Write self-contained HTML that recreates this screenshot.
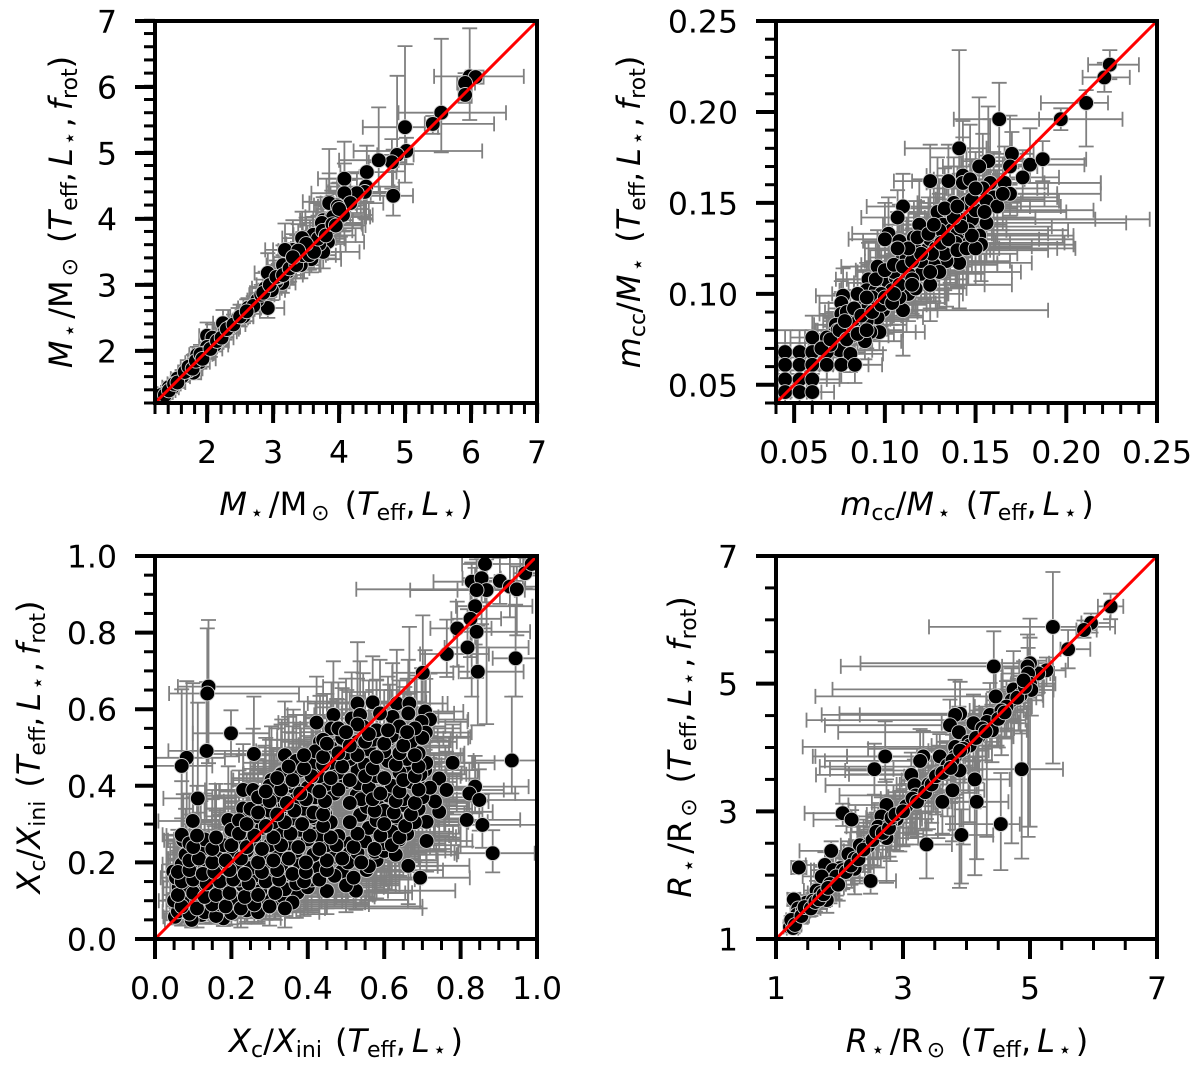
<!DOCTYPE html>
<html lang="en">
<head>
<meta charset="utf-8">
<title>Stellar parameter comparison</title>
<style>
html,body{margin:0;padding:0;background:#fff;}
svg{display:block;}
text{font-family:"DejaVu Sans","Liberation Sans",sans-serif;fill:#000;}
</style>
</head>
<body>
<svg id="figure" xmlns="http://www.w3.org/2000/svg" width="1200" height="1068" viewBox="0 0 1200 1068">
<rect x="0" y="0" width="1200" height="1068" fill="#fff"/>
<g id="panels"></g>

<text x="346" y="515" text-anchor="middle" font-size="32"><tspan font-style="italic">M</tspan><tspan dy="5" dx="3" font-size="22">⋆</tspan><tspan dy="-5" dx="5">/M</tspan><tspan dy="5" dx="4" font-size="22">⊙</tspan><tspan dy="-5" dx="15">(</tspan><tspan font-style="italic">T</tspan><tspan dy="5" font-size="22">eff</tspan><tspan dy="-5">,</tspan><tspan dx="6" font-style="italic">L</tspan><tspan dy="5" dx="3" font-size="22">⋆</tspan><tspan dy="-5" dx="4">)</tspan></text>
<text transform="translate(72 212) rotate(-90)" text-anchor="middle" font-size="32"><tspan font-style="italic">M</tspan><tspan dy="5" dx="3" font-size="22">⋆</tspan><tspan dy="-5" dx="5">/M</tspan><tspan dy="5" dx="4" font-size="22">⊙</tspan><tspan dy="-5" dx="15">(</tspan><tspan font-style="italic">T</tspan><tspan dy="5" font-size="22">eff</tspan><tspan dy="-5">,</tspan><tspan dx="6" font-style="italic">L</tspan><tspan dy="5" dx="3" font-size="22">⋆</tspan><tspan dy="-5" dx="4">,</tspan><tspan dx="7" font-style="italic">f</tspan><tspan dy="5" font-size="22">rot</tspan><tspan dy="-5">)</tspan></text>

<text x="967" y="515" text-anchor="middle" font-size="32"><tspan font-style="italic">m</tspan><tspan dy="5" font-size="22">cc</tspan><tspan dy="-5">/</tspan><tspan font-style="italic">M</tspan><tspan dy="5" dx="3" font-size="22">⋆</tspan><tspan dy="-5" dx="15">(</tspan><tspan font-style="italic">T</tspan><tspan dy="5" font-size="22">eff</tspan><tspan dy="-5">,</tspan><tspan dx="6" font-style="italic">L</tspan><tspan dy="5" dx="3" font-size="22">⋆</tspan><tspan dy="-5" dx="4">)</tspan></text>
<text transform="translate(640 212) rotate(-90)" text-anchor="middle" font-size="32"><tspan font-style="italic">m</tspan><tspan dy="5" font-size="22">cc</tspan><tspan dy="-5">/</tspan><tspan font-style="italic">M</tspan><tspan dy="5" dx="3" font-size="22">⋆</tspan><tspan dy="-5" dx="15">(</tspan><tspan font-style="italic">T</tspan><tspan dy="5" font-size="22">eff</tspan><tspan dy="-5">,</tspan><tspan dx="6" font-style="italic">L</tspan><tspan dy="5" dx="3" font-size="22">⋆</tspan><tspan dy="-5" dx="4">,</tspan><tspan dx="7" font-style="italic">f</tspan><tspan dy="5" font-size="22">rot</tspan><tspan dy="-5">)</tspan></text>

<text x="346" y="1052" text-anchor="middle" font-size="32"><tspan font-style="italic">X</tspan><tspan dy="5" font-size="22">c</tspan><tspan dy="-5">/</tspan><tspan font-style="italic">X</tspan><tspan dy="5" font-size="22">ini</tspan><tspan dy="-5" dx="13">(</tspan><tspan font-style="italic">T</tspan><tspan dy="5" font-size="22">eff</tspan><tspan dy="-5">,</tspan><tspan dx="6" font-style="italic">L</tspan><tspan dy="5" dx="3" font-size="22">⋆</tspan><tspan dy="-5" dx="4">)</tspan></text>
<text transform="translate(40 747) rotate(-90)" text-anchor="middle" font-size="32"><tspan font-style="italic">X</tspan><tspan dy="5" font-size="22">c</tspan><tspan dy="-5">/</tspan><tspan font-style="italic">X</tspan><tspan dy="5" font-size="22">ini</tspan><tspan dy="-5" dx="13">(</tspan><tspan font-style="italic">T</tspan><tspan dy="5" font-size="22">eff</tspan><tspan dy="-5">,</tspan><tspan dx="6" font-style="italic">L</tspan><tspan dy="5" dx="3" font-size="22">⋆</tspan><tspan dy="-5" dx="4">,</tspan><tspan dx="7" font-style="italic">f</tspan><tspan dy="5" font-size="22">rot</tspan><tspan dy="-5">)</tspan></text>

<text x="967" y="1052" text-anchor="middle" font-size="32"><tspan font-style="italic">R</tspan><tspan dy="5" dx="3" font-size="22">⋆</tspan><tspan dy="-5" dx="5">/R</tspan><tspan dy="5" dx="4" font-size="22">⊙</tspan><tspan dy="-5" dx="15">(</tspan><tspan font-style="italic">T</tspan><tspan dy="5" font-size="22">eff</tspan><tspan dy="-5">,</tspan><tspan dx="6" font-style="italic">L</tspan><tspan dy="5" dx="3" font-size="22">⋆</tspan><tspan dy="-5" dx="4">)</tspan></text>
<text transform="translate(691 747) rotate(-90)" text-anchor="middle" font-size="32"><tspan font-style="italic">R</tspan><tspan dy="5" dx="3" font-size="22">⋆</tspan><tspan dy="-5" dx="5">/R</tspan><tspan dy="5" dx="4" font-size="22">⊙</tspan><tspan dy="-5" dx="15">(</tspan><tspan font-style="italic">T</tspan><tspan dy="5" font-size="22">eff</tspan><tspan dy="-5">,</tspan><tspan dx="6" font-style="italic">L</tspan><tspan dy="5" dx="3" font-size="22">⋆</tspan><tspan dy="-5" dx="4">,</tspan><tspan dx="7" font-style="italic">f</tspan><tspan dy="5" font-size="22">rot</tspan><tspan dy="-5">)</tspan></text>
</svg>

<script>
// ---- Panel 1: stellar mass ----
const massTicks=[2,3,4,5,6,7];
const massTickLabels=["2","3","4","5","6","7"];
const massX=[5.98,6.07,5.91,5.91,5.55,5.42,5.0,5.02,4.88,4.8,
4.6,4.42,4.41,4.39,4.27,4.82,4.08,4.08,4.17,3.85,
3.97,3.76,3.89,4.02,3.85,3.98,4.06,3.91,3.74,3.86,
3.83,3.76,3.58,3.61,3.44,3.3,3.18,3.26,3.15,3.48,
2.92,2.88,2.92,3.14,2.76,2.62,2.47,2.24,2.27,2.0,
2.08,2.12,2.0,1.85,1.79,1.89,1.79,1.62,1.47,1.29,
1.38,3.52,3.36,3.22,3.05,2.98,2.7,2.55,2.35,2.18,
1.95,1.72,1.55,1.25,3.7,3.42,3.08,2.82,1.42,1.33,
1.3,1.36,1.42,1.5,1.55,1.66,1.72,1.78,1.83,1.9,
1.93,2.05,2.15,2.22,2.3,2.4,2.5,2.6,2.85,2.95,
3.05,3.15,3.25,3.35,3.45,3.55,3.62,3.68,3.75,3.8,
3.9,3.95,4.0,3.5,3.38,3.3];
const massY=[6.16,6.15,6.06,5.88,5.61,5.44,5.39,5.03,4.97,4.86,
4.89,4.71,4.49,4.41,4.39,4.35,4.61,4.39,4.24,4.26,
4.21,3.98,4.03,4.03,4.24,4.19,4.06,4.03,3.94,3.86,
3.65,3.5,3.39,3.76,3.71,3.53,3.53,3.33,3.3,3.48,
3.18,2.95,2.65,3.03,2.77,2.65,2.5,2.42,2.29,2.23,
2.2,2.09,2.06,1.94,1.82,1.83,1.67,1.61,1.44,1.3,
1.37,3.55,3.4,3.2,3.05,2.92,2.68,2.52,2.36,2.16,
1.96,1.7,1.58,1.25,3.62,3.3,3.12,2.85,1.45,1.35,
1.33,1.33,1.4,1.5,1.52,1.68,1.76,1.73,1.85,1.95,
1.88,2.03,2.15,2.2,2.33,2.4,2.52,2.6,2.88,3.0,
3.12,3.15,3.25,3.3,3.45,3.45,3.5,3.7,3.82,3.75,
3.92,3.9,4.15,3.62,3.52,3.42];
const massXLo=[.54,.15,.12,.1,.65,.12,.64,.8,.3,.35,
.6,.4,.6,.55,.4,.7,.4,.5,.45,.4,
.35,.35,.4,.35,.3,.3,.3,.25,.3,.3,
.25,.25,.25,.3,.3,.3,.3,.25,.25,.2,
.2,.2,.2,.2,.15,.15,.15,.15,.15,.12,
.12,.12,.12,.12,.12,.1,.1,.1,.1,.08,
.08,.25,.25,.2,.2,.2,.15,.12,.12,.12,
.12,.1,.1,.08,.3,.25,.2,.18,.1,.08,
.08,.08,.09,.1,.1,.1,.12,.12,.12,.12,
.12,.12,.12,.15,.15,.15,.15,.15,.2,.2,
.2,.25,.25,.25,.25,.3,.3,.3,.3,.3,
.3,.3,.35,.3,.3,.3];
const massXHi=[.82,.12,.15,.1,.98,.93,.5,1.15,.25,.2,
.3,.45,.5,.45,.35,.3,.35,.4,.5,.4,
.4,.45,.5,.45,.4,.35,.45,.5,.6,.5,
.55,.55,.45,.4,.3,.3,.3,.35,.3,.35,
.25,.25,.25,.2,.2,.2,.15,.15,.18,.2,
.18,.2,.15,.15,.15,.15,.12,.12,.1,.08,
.1,.3,.25,.25,.2,.2,.15,.15,.15,.12,
.15,.12,.1,.08,.4,.3,.2,.2,.1,.08,
.08,.08,.1,.1,.12,.12,.12,.15,.15,.18,
.2,.18,.18,.18,.18,.18,.2,.2,.25,.25,
.25,.3,.3,.35,.35,.4,.4,.4,.45,.45,
.45,.45,.45,.35,.3,.3];
const massYLo=[.66,.1,.15,.12,.6,.15,.84,.2,.25,.4,
.5,.45,.5,.4,.3,.3,.4,.35,.3,.35,
.3,.3,.3,.3,.25,.25,.25,.25,.25,.25,
.25,.25,.2,.25,.25,.2,.2,.2,.2,.2,
.18,.15,.15,.15,.15,.12,.12,.12,.12,.1,
.1,.1,.1,.1,.1,.1,.1,.08,.08,.06,
.06,.2,.2,.2,.15,.15,.12,.1,.1,.1,
.08,.08,.08,.05,.2,.2,.15,.12,.08,.06,
.06,.06,.07,.07,.08,.08,.1,.1,.1,.12,
.12,.12,.12,.12,.12,.12,.15,.15,.15,.18,
.18,.2,.2,.2,.22,.22,.25,.25,.25,.25,
.25,.25,.3,.25,.22,.2];
const massYHi=[.73,.1,.15,.12,1.12,.12,1.23,.2,1.2,.35,
.8,.4,.25,.3,.3,.7,.56,.45,.35,.8,
.4,.35,.4,.35,.45,.35,.3,.35,.3,.4,
.3,.3,.25,.35,.4,.45,.4,.3,.3,.3,
.3,.25,.15,.2,.2,.15,.15,.2,.18,.2,
.2,.12,.12,.12,.12,.1,.1,.1,.08,.06,
.06,.35,.35,.3,.2,.2,.15,.15,.12,.12,
.1,.1,.08,.05,.3,.25,.2,.15,.08,.06,
.06,.06,.07,.08,.08,.1,.1,.1,.12,.14,
.12,.14,.14,.15,.15,.15,.18,.18,.2,.25,
.25,.3,.3,.3,.35,.3,.3,.35,.4,.35,
.35,.35,.4,.4,.4,.35];

// ---- Panel 2: convective core mass ----
const coreTicks=[.05,.10,.15,.20,.25];
const coreTickLabels=["0.05","0.10","0.15","0.20","0.25"];
const coreX=[.224,.221,.211,.197,.163,.141,.17,.157,.152,.169,
.18,.187,.176,.125,.135,.143,.143,.158,.166,.169,
.147,.154,.16,.156,.138,.145,.11,.107,.129,.156,
.148,.141,.119,.132,.137,.102,.1,.108,.116,.152,
.144,.153,.136,.141,.134,.122,.127,.129,.123,.117,
.109,.096,.12,.113,.091,.101,.106,.113,.117,.11,
.099,.09,.095,.104,.077,.076,.076,.087,.091,.081,
.096,.087,.097,.092,.081,.073,.072,.082,.089,.06,
.068,.075,.081,.045,.053,.06,.068,.045,.053,.06,
.068,.076,.0835,.045,.053,.06,.045,.053,.06,.13,
.125,.112,.105,.118,.128,.15,.14,.133,.098,.093,
.085,.083,.079,.07,.065,.074,.09,.103,.108,.115,
.12,.126,.131,.139,.146,
.07,.075,.079,.085,.09,.078,.083,.087,.093,.098,
.085,.09,.1,.104,.108,.095,.1,.105,.11,.115,
.12,.113,.107,.118,.124,.127,.135,.14,.145,.15,
.148,.142,.138,.133,.14,.148,.15,.162,.165,.155,
.125,.13,.105,.115,.125];
const coreY=[.226,.219,.205,.196,.196,.18,.177,.173,.17,.17,
.171,.174,.164,.162,.162,.165,.161,.161,.161,.155,
.163,.158,.153,.151,.15,.15,.148,.142,.145,.139,
.141,.141,.138,.138,.135,.133,.13,.129,.131,.132,
.13,.127,.126,.117,.118,.117,.116,.128,.124,.124,
.118,.115,.111,.111,.108,.106,.109,.1,.103,.091,
.091,.102,.102,.102,.099,.095,.089,.094,.094,.088,
.087,.083,.079,.079,.083,.083,.078,.077,.074,.076,
.076,.069,.067,.068,.068,.068,.068,.061,.061,.061,
.061,.061,.061,.053,.053,.053,.046,.046,.046,.135,
.13,.12,.112,.12,.125,.146,.133,.122,.1,.098,
.088,.086,.09,.072,.07,.08,.085,.095,.098,.108,
.118,.122,.128,.128,.135,
.075,.08,.075,.078,.08,.085,.092,.088,.09,.094,
.1,.098,.098,.095,.105,.108,.113,.116,.115,.118,
.122,.125,.125,.131,.133,.138,.13,.124,.125,.125,
.132,.137,.142,.147,.148,.152,.158,.148,.155,.145,
.105,.112,.1,.105,.112];
const coreXLo=[.012,.012,.025,.012,.025,.03,.012,.015,.02,.012,
.02,.02,.015,.02,.02,.02,.02,.02,.02,.02,
.02,.02,.02,.02,.02,.02,.02,.02,.02,.025,
.02,.025,.02,.02,.02,.02,.02,.02,.02,.02,
.02,.02,.02,.015,.02,.02,.02,.02,.02,.02,
.02,.02,.018,.018,.018,.018,.018,.015,.015,.015,
.015,.015,.015,.015,.015,.012,.012,.012,.012,.012,
.012,.012,.012,.012,.012,.012,.012,.012,.012,.012,
.012,.012,.012,.005,.012,.012,.012,.005,.012,.012,
.012,.012,.012,.005,.012,.012,.005,.012,.012,.02,
.02,.02,.02,.02,.02,.02,.02,.02,.015,.015,
.012,.012,.012,.012,.012,.012,.012,.015,.015,.015,
.02,.02,.02,.02,.02,
.012,.012,.012,.012,.014,.012,.014,.014,.015,.015,
.014,.015,.015,.016,.016,.016,.016,.018,.018,.018,
.02,.018,.018,.02,.02,.02,.02,.02,.02,.02,
.02,.02,.02,.02,.02,.02,.02,.02,.02,.02,
.018,.018,.016,.018,.018];
const coreXHi=[.016,.014,.012,.034,.034,.015,.012,.03,.015,.015,
.03,.024,.02,.01,.02,.02,.076,.03,.053,.05,
.03,.03,.035,.04,.02,.03,.015,.015,.025,.077,
.068,.105,.03,.03,.03,.02,.02,.025,.025,.052,
.06,.051,.045,.04,.035,.04,.035,.04,.035,.03,
.03,.03,.035,.03,.025,.025,.03,.03,.028,.08,
.03,.025,.025,.03,.02,.02,.02,.02,.025,.02,
.025,.025,.025,.025,.02,.02,.02,.02,.02,.018,
.018,.018,.018,.015,.015,.015,.015,.015,.015,.015,
.015,.015,.015,.012,.015,.015,.012,.012,.012,.03,
.035,.03,.025,.03,.035,.065,.05,.04,.025,.022,
.02,.02,.02,.015,.015,.018,.02,.025,.025,.03,
.03,.03,.03,.06,.055,
.018,.018,.018,.02,.02,.02,.022,.022,.025,.025,
.024,.025,.03,.03,.035,.03,.03,.035,.035,.04,
.04,.035,.03,.035,.035,.04,.05,.05,.05,.055,
.05,.05,.045,.04,.04,.04,.04,.035,.03,.045,
.045,.045,.03,.04,.045];
const coreYLo=[.008,.008,.024,.006,.03,.03,.008,.008,.012,.01,
.01,.012,.012,.012,.012,.015,.02,.015,.012,.012,
.012,.015,.015,.015,.015,.015,.015,.015,.015,.015,
.015,.02,.012,.015,.015,.012,.012,.012,.012,.015,
.015,.02,.02,.025,.025,.02,.02,.015,.015,.015,
.012,.012,.015,.015,.012,.012,.012,.015,.015,.025,
.012,.012,.012,.012,.012,.01,.01,.01,.01,.01,
.01,.01,.01,.01,.01,.01,.01,.01,.01,.01,
.01,.01,.01,.01,.01,.01,.01,.01,.01,.01,
.01,.01,.01,.01,.008,.008,.008,.008,.008,.015,
.015,.012,.012,.012,.015,.02,.02,.02,.012,.012,
.01,.01,.01,.01,.01,.01,.01,.012,.012,.012,
.015,.015,.015,.025,.03,
.01,.01,.01,.01,.01,.012,.012,.012,.012,.012,
.012,.012,.012,.012,.014,.014,.014,.014,.014,.016,
.016,.014,.014,.016,.016,.016,.02,.02,.02,.02,
.02,.02,.02,.02,.02,.02,.02,.02,.02,.02,
.02,.02,.014,.016,.02];
const coreYHi=[.008,.008,.007,.006,.02,.054,.012,.03,.038,.028,
.02,.01,.015,.02,.02,.03,.025,.035,.02,.02,
.03,.03,.025,.025,.025,.03,.018,.015,.03,.02,
.025,.025,.025,.025,.025,.02,.02,.02,.02,.02,
.025,.02,.025,.02,.02,.02,.02,.025,.02,.02,
.02,.02,.02,.015,.02,.015,.015,.015,.015,.015,
.015,.015,.015,.015,.015,.012,.012,.012,.012,.012,
.012,.012,.012,.012,.012,.012,.012,.012,.012,.012,
.012,.012,.012,.012,.012,.012,.012,.012,.012,.012,
.012,.012,.012,.012,.012,.012,.01,.01,.01,.02,
.02,.02,.018,.018,.02,.025,.025,.02,.015,.015,
.012,.012,.012,.01,.01,.012,.012,.015,.015,.015,
.02,.02,.02,.025,.025,
.012,.012,.012,.012,.012,.014,.014,.014,.014,.014,
.015,.015,.015,.015,.016,.016,.018,.018,.018,.018,
.02,.02,.02,.02,.02,.02,.02,.02,.02,.02,
.022,.022,.022,.022,.022,.022,.02,.02,.02,.022,
.016,.016,.015,.016,.018];

// ---- Panel 3: central hydrogen fraction ----
const hydroTicks=[0,.2,.4,.6,.8,1];
const hydroTickLabels=["0.0","0.2","0.4","0.6","0.8","1.0"];
const hydroX=[.864,.829,.855,.903,.929,.947,.868,.842,.969,.986,
.838,.826,.842,.791,.818,.764,.845,.944,.934,.701,
.14,.137,.199,.135,.259,.083,.07,.112,.099,.779,
.744,.763,.838,.823,.849,.816,.857,.884,.711,.663,
.694,.526,.373,.312,.554,.53,.57,.633,.666,.467,
.423,.707,.663,.622,.515,.537,.589,.72,.698,.709,
.685,.654,.615,.58,.545,.502,.476,.432,.462,.744,
.733,.711,.676,.707,.707,.663,.667,.633,.589,.606,
.528,.58,.537,.633,.628,.614,.58,.576,.51,.51,
.48,.445,.419,.423,.345,.44,.375,.436,.489,.306,
.27,.249,.179,.122,.096,.052,.061,.048,.074,.07,
.114,.157,.21,.192,.231,.257,.288,.305,.34,.362,
.414,.476,.502,.563,.532,.532,.484,.449,.362,.332,
.284,.231,.249,.31,.362,.327,.266,
.06,.09,.13,.16,.2,.24,.27,
.05,.08,.11,.145,.17,.21,.25,.29,.335,.36,
.062,.09,.12,.152,.19,.23,.275,.34,.4,.45,.5,
.055,.08,.112,.15,.18,.22,.26,.3,.345,.41,.47,.52,
.07,.1,.13,.17,.21,.25,.29,.33,.38,.43,.505,.56,
.08,.12,.16,.2,.24,.28,.32,.37,.415,.47,.53,.6,.63,
.09,.13,.18,.22,.26,.3,.35,.4,.45,.55,.6,.64,
.2,.24,.28,.33,.38,.43,.56,.62,.66,
.22,.27,.31,.36,.41,.46,.58,.63,.68,
.25,.3,.34,.39,.44,.555,.6,.65,.69,
.27,.32,.37,.42,.47,.54,.61,.65,.7,
.3,.35,.4,.45,.5,.56,.62,.67,.72,
.33,.38,.43,.48,.53,.58,.64,.695,
.37,.41,.46,.51,.55,.61,.66,.71,
.42,.46,.5,.56,.6,.65,.69,
.44,.49,.53,.57,.62,.67,.7,
.48,.53,.58,.64,.68,
.07,.11,.15,.185,.225,.26,.3,.34,
.06,.1,.13,.16,.195,.235,.27,.315,
.07,.1,.135,.17,.205,.245,.29,.325,.37,.39,.43,
.06,.09,.125,.155,.195,.235,.28,.32,.36,.395,.45,
.09,.115,.15,.185,.225,.27,.31,.35,.395,.45,.49,.54,
.1,.15,.2,.24,.28,.33,.375,.43,.475,.52,.575,.62,
.11,.16,.22,.26,.31,.355,.405,.46,.53,.59,.64,
.24,.29,.34,.385,.44,.51,.6,.655,
.27,.32,.365,.415,.44,.575,.625,.67,
.3,.345,.395,.445,.51,.57,.63,.68,
.29,.33,.38,.43,.48,.59,.64,.69,
.32,.36,.41,.46,.51,.55,.6,.65,.68,
.35,.39,.44,.49,.57,.63,.69,
.39,.44,.48,.53,.58,.64,.68,
.45,.51,.55,.6,.65,
.5,.56,.61,.66];
const hydroY=[.979,.933,.942,.935,.92,.913,.911,.911,.955,.979,
.869,.836,.802,.811,.761,.744,.698,.733,.466,.695,
.659,.641,.537,.491,.483,.473,.452,.367,.308,.46,
.419,.389,.398,.38,.363,.311,.298,.224,.256,.191,
.16,.126,.121,.102,.18,.615,.618,.615,.615,.585,
.565,.594,.589,.58,.576,.585,.589,.573,.567,.539,
.528,.518,.524,.537,.554,.53,.507,.515,.55,.332,
.359,.306,.347,.393,.441,.433,.48,.463,.424,.389,
.376,.356,.324,.315,.267,.228,.206,.228,.25,.224,
.269,.328,.315,.276,.276,.224,.18,.18,.176,.176,
.154,.135,.054,.063,.05,.058,.102,.176,.258,.272,
.258,.254,.267,.311,.389,.389,.385,.415,.48,.459,
.459,.485,.459,.476,.45,.406,.424,.406,.398,.433,
.346,.341,.324,.359,.354,.319,.293,
.072,.066,.07,.06,.068,.075,.07,
.1,.11,.095,.1,.09,.105,.095,.1,.11,.095,
.135,.13,.14,.125,.13,.14,.125,.13,.135,.125,.14,
.16,.17,.155,.16,.17,.155,.165,.16,.17,.155,.165,.16,
.195,.19,.185,.2,.19,.185,.2,.19,.195,.185,.2,.19,
.22,.23,.215,.225,.23,.215,.225,.23,.22,.215,.225,.23,.22,
.25,.26,.245,.255,.26,.245,.25,.26,.245,.255,.25,.26,
.285,.275,.29,.28,.285,.27,.29,.28,.275,
.31,.32,.305,.315,.32,.305,.31,.32,.305,
.34,.335,.35,.34,.335,.345,.335,.35,.34,
.37,.375,.365,.37,.38,.365,.375,.365,.37,
.4,.41,.395,.405,.41,.395,.4,.41,.395,
.43,.44,.425,.435,.44,.425,.435,.43,
.465,.455,.46,.47,.455,.465,.47,.46,
.49,.5,.485,.495,.49,.5,.485,
.52,.525,.515,.52,.53,.515,.525,
.55,.56,.545,.555,.55,
.085,.08,.09,.085,.08,.09,.085,.08,
.115,.12,.11,.115,.12,.11,.115,.12,
.15,.155,.145,.15,.155,.145,.15,.155,.145,.15,.155,
.175,.18,.17,.175,.18,.17,.175,.18,.17,.175,.18,
.205,.21,.2,.205,.21,.2,.205,.21,.2,.205,.21,.2,
.24,.235,.245,.24,.235,.245,.24,.235,.245,.24,.235,.245,
.27,.265,.275,.27,.265,.275,.27,.265,.275,.27,.265,
.3,.295,.305,.3,.295,.305,.3,.295,
.33,.325,.335,.33,.325,.335,.33,.325,
.36,.355,.365,.36,.355,.365,.36,.355,
.385,.39,.38,.385,.39,.38,.385,.39,
.42,.415,.425,.42,.415,.425,.42,.415,.425,
.45,.445,.455,.45,.445,.455,.45,
.48,.475,.485,.48,.475,.485,.48,
.51,.505,.515,.51,.505,
.54,.535,.545,.54];
const hydroXLo=[.06,.1,.05,.05,.06,.42,.2,.05,.03,.03,
.05,.05,.06,.07,.06,.07,.05,.06,.1,.08,
.08,.1,.1,.1,.12,.083,.07,.09,.09,.08,
.08,.09,.1,.1,.1,.1,.1,.1,.1,.1,
.1,.1,.12,.1,.1,.13,.12,.1,.1,.12,
.1,.08,.12,.1,.12,.12,.1,.08,.08,.1,
.1,.12,.1,.1,.12,.12,.1,.1,.1,.1,
.1,.1,.12,.1,.1,.12,.1,.12,.1,.1,
.12,.1,.12,.1,.12,.1,.12,.1,.12,.1,
.1,.1,.1,.12,.1,.1,.12,.1,.1,.12,
.1,.1,.1,.08,.07,.03,.04,.03,.05,.05,
.08,.08,.1,.1,.1,.1,.12,.1,.12,.1,
.1,.1,.12,.1,.1,.12,.1,.1,.1,.1,
.1,.1,.1,.1,.12,.1,.1,
.04,.06,.08,.1,.1,.12,.1,
.04,.05,.08,.09,.1,.1,.12,.1,.1,.12,
.04,.05,.08,.1,.1,.12,.1,.12,.1,.12,.1,
.04,.05,.08,.1,.1,.1,.12,.1,.12,.1,.12,.1,
.05,.06,.08,.1,.1,.12,.1,.12,.1,.12,.1,.12,
.05,.08,.1,.1,.12,.1,.1,.12,.1,.12,.1,.12,.1,
.06,.08,.1,.1,.12,.1,.12,.1,.12,.1,.12,.1,
.12,.1,.12,.1,.12,.1,.1,.12,.1,
.12,.1,.12,.1,.12,.1,.1,.12,.1,
.12,.1,.12,.1,.12,.1,.12,.1,.1,
.12,.1,.12,.1,.12,.1,.12,.1,.1,
.1,.12,.1,.12,.1,.12,.1,.12,.1,
.1,.12,.1,.12,.1,.12,.1,.1,
.12,.1,.12,.1,.12,.1,.12,.1,
.1,.12,.1,.12,.1,.12,.1,
.12,.1,.12,.1,.12,.1,.1,
.1,.12,.1,.12,.1,
.04,.07,.1,.1,.12,.1,.12,.1,
.04,.07,.09,.1,.12,.1,.12,.1,
.05,.07,.09,.1,.12,.1,.12,.1,.12,.1,.12,
.04,.06,.09,.1,.12,.1,.12,.1,.12,.1,.12,
.06,.08,.1,.12,.1,.12,.1,.12,.1,.12,.1,.12,
.07,.1,.12,.1,.12,.1,.12,.1,.12,.1,.12,.1,
.08,.1,.12,.1,.12,.1,.12,.1,.12,.1,.12,
.12,.1,.12,.1,.12,.1,.12,.1,
.12,.1,.12,.1,.12,.1,.12,.1,
.12,.1,.12,.1,.12,.1,.12,.1,
.12,.1,.12,.1,.12,.1,.12,.1,
.12,.1,.12,.1,.12,.1,.12,.1,.12,
.1,.12,.1,.12,.1,.12,.1,
.12,.1,.12,.1,.12,.1,.12,
.1,.12,.1,.12,.1,
.12,.1,.12,.1];
const hydroXHi=[.1,.06,.05,.06,.07,.05,.1,.1,.03,.014,
.15,.08,.14,.09,.16,.11,.12,.056,.066,.08,
.3,.24,.1,.13,.12,.1,.08,.1,.1,.11,
.1,.15,.14,.12,.15,.14,.14,.11,.12,.16,
.13,.26,.3,.35,.2,.12,.14,.12,.1,.14,
.12,.1,.12,.12,.14,.12,.12,.1,.12,.12,
.14,.12,.14,.12,.12,.12,.14,.12,.12,.14,
.14,.16,.14,.14,.14,.14,.14,.16,.14,.14,
.16,.14,.16,.18,.16,.18,.16,.16,.16,.18,
.14,.14,.14,.16,.14,.18,.2,.18,.18,.2,
.3,.35,.15,.12,.12,.1,.12,.1,.1,.1,
.12,.12,.14,.12,.12,.14,.12,.14,.12,.14,
.14,.14,.12,.12,.14,.14,.14,.12,.14,.14,
.14,.12,.14,.14,.12,.12,.12,
.1,.12,.14,.12,.14,.14,.16,
.1,.12,.14,.14,.16,.14,.3,.2,.24,.2,
.1,.12,.14,.14,.16,.14,.18,.16,.18,.16,.14,
.1,.12,.12,.14,.14,.16,.14,.18,.16,.18,.16,.18,
.12,.12,.14,.14,.16,.14,.16,.18,.16,.18,.16,.18,
.12,.14,.14,.16,.14,.16,.18,.16,.18,.16,.18,.16,.16,
.12,.14,.14,.16,.14,.16,.14,.16,.16,.18,.16,.16,
.14,.14,.16,.14,.16,.14,.16,.16,.14,
.14,.14,.16,.14,.16,.14,.16,.14,.14,
.14,.14,.16,.14,.14,.16,.14,.14,.14,
.14,.14,.14,.16,.14,.14,.14,.14,.14,
.12,.14,.14,.14,.16,.14,.14,.12,.12,
.14,.14,.14,.14,.14,.14,.12,.12,
.14,.14,.14,.14,.14,.12,.12,.12,
.12,.14,.14,.12,.12,.12,.12,
.14,.12,.14,.12,.12,.12,.12,
.12,.12,.12,.12,.12,
.12,.14,.14,.16,.22,.3,.4,.36,
.12,.14,.14,.16,.18,.24,.3,.34,
.12,.14,.16,.16,.18,.2,.24,.28,.25,.25,.25,
.12,.14,.14,.16,.18,.18,.2,.2,.22,.22,.2,
.14,.14,.16,.16,.18,.18,.2,.2,.2,.2,.2,.2,
.14,.16,.16,.18,.18,.2,.18,.2,.2,.2,.2,.18,
.14,.16,.18,.18,.18,.18,.18,.18,.2,.18,.16,
.16,.18,.16,.18,.16,.16,.16,.14,
.16,.16,.18,.16,.16,.16,.14,.14,
.16,.16,.16,.16,.16,.14,.14,.14,
.16,.16,.16,.14,.16,.14,.14,.14,
.14,.16,.14,.16,.14,.14,.14,.12,.12,
.14,.14,.14,.14,.14,.12,.12,
.14,.14,.14,.14,.12,.12,.12,
.14,.12,.14,.12,.12,
.12,.14,.12,.12];
const hydroYLo=[.1,.3,.12,.06,.08,.12,.35,.1,.04,.03,
.1,.1,.12,.1,.08,.06,.14,.1,.086,.08,
.2,.15,.06,.18,.15,.2,.2,.25,.2,.08,
.07,.06,.07,.07,.08,.07,.06,.05,.08,.1,
.08,.05,.05,.05,.08,.1,.1,.1,.1,.08,
.1,.1,.1,.1,.08,.1,.1,.1,.1,.1,
.1,.1,.1,.1,.1,.1,.1,.1,.1,.1,
.1,.1,.1,.1,.1,.1,.1,.1,.1,.1,
.1,.1,.1,.1,.1,.1,.1,.1,.1,.1,
.1,.1,.1,.1,.1,.1,.08,.1,.08,.08,
.07,.06,.02,.02,.02,.02,.04,.06,.08,.1,
.08,.08,.1,.1,.1,.1,.1,.1,.1,.1,
.1,.1,.1,.1,.1,.1,.1,.1,.1,.1,
.1,.1,.1,.1,.1,.1,.1,
.03,.03,.03,.02,.03,.03,.03,
.05,.05,.04,.05,.04,.05,.04,.05,.05,.04,
.07,.07,.07,.06,.07,.07,.06,.07,.07,.06,.07,
.08,.09,.08,.08,.09,.08,.08,.08,.09,.08,.08,.08,
.1,.09,.09,.1,.09,.09,.1,.09,.1,.09,.1,.09,
.1,.1,.1,.1,.1,.1,.1,.1,.1,.1,.1,.1,.1,
.1,.11,.1,.11,.1,.1,.1,.11,.1,.1,.1,.1,
.11,.1,.11,.1,.11,.1,.11,.1,.1,
.11,.1,.11,.1,.11,.1,.11,.1,.1,
.1,.11,.1,.11,.1,.11,.1,.11,.1,
.1,.11,.1,.11,.1,.11,.1,.11,.1,
.1,.11,.1,.11,.1,.11,.1,.11,.1,
.1,.11,.1,.11,.1,.11,.1,.1,
.1,.11,.1,.11,.1,.11,.1,.1,
.1,.11,.1,.11,.1,.11,.1,
.1,.11,.1,.11,.1,.1,.1,
.1,.1,.1,.1,.1,
.05,.05,.05,.05,.05,.05,.05,.05,
.07,.07,.07,.07,.07,.07,.07,.07,
.09,.09,.09,.09,.09,.09,.09,.09,.09,.09,.09,
.1,.1,.1,.1,.1,.1,.1,.1,.1,.1,.1,
.1,.11,.1,.11,.1,.11,.1,.11,.1,.11,.1,.11,
.11,.1,.11,.1,.11,.1,.11,.1,.11,.1,.11,.1,
.1,.11,.1,.11,.1,.11,.1,.11,.1,.11,.1,
.11,.1,.11,.1,.11,.1,.11,.1,
.1,.11,.1,.11,.1,.11,.1,.11,
.11,.1,.11,.1,.11,.1,.11,.1,
.1,.11,.1,.11,.1,.11,.1,.11,
.11,.1,.11,.1,.11,.1,.11,.1,.11,
.1,.11,.1,.11,.1,.11,.1,
.11,.1,.11,.1,.11,.1,.11,
.1,.11,.1,.11,.1,
.11,.1,.11,.1];
const hydroYHi=[.02,.05,.05,.06,.08,.06,.08,.08,.04,.02,
.1,.1,.1,.07,.1,.09,.12,.14,.167,.15,
.174,.17,.06,.18,.15,.2,.2,.25,.36,.1,
.1,.1,.08,.08,.08,.08,.08,.06,.1,.08,
.06,.05,.05,.06,.08,.16,.12,.14,.2,.14,
.12,.16,.14,.14,.12,.14,.14,.12,.14,.14,
.16,.14,.14,.14,.14,.12,.12,.12,.12,.1,
.1,.12,.12,.12,.14,.14,.16,.14,.12,.12,
.12,.12,.12,.12,.12,.12,.1,.1,.12,.1,
.12,.14,.14,.12,.14,.1,.1,.1,.08,.1,
.08,.08,.04,.05,.05,.06,.06,.08,.12,.14,
.12,.12,.12,.14,.12,.16,.12,.14,.14,.14,
.12,.14,.14,.12,.12,.12,.12,.12,.14,.14,
.12,.14,.12,.14,.14,.12,.12,
.06,.06,.06,.06,.06,.06,.06,
.08,.08,.08,.08,.08,.08,.08,.08,.08,.08,
.09,.1,.09,.1,.09,.1,.09,.1,.09,.1,.09,
.1,.11,.1,.11,.1,.11,.1,.11,.1,.11,.1,.11,
.12,.11,.12,.11,.12,.11,.12,.11,.12,.11,.12,.11,
.12,.13,.12,.13,.12,.13,.12,.13,.12,.13,.12,.13,.12,
.13,.12,.13,.12,.13,.12,.13,.12,.13,.12,.13,.12,
.12,.13,.12,.13,.12,.13,.12,.13,.12,
.13,.12,.13,.12,.13,.12,.13,.12,.13,
.12,.13,.12,.13,.12,.13,.12,.13,.12,
.13,.12,.13,.12,.13,.12,.13,.12,.13,
.12,.13,.12,.13,.12,.13,.12,.13,.12,
.13,.12,.13,.12,.13,.12,.13,.12,
.12,.13,.12,.13,.12,.13,.12,.13,
.13,.12,.13,.12,.13,.14,.12,
.12,.13,.12,.13,.12,.13,.12,
.12,.12,.13,.12,.13,
.07,.07,.07,.07,.07,.07,.07,.07,
.09,.09,.09,.09,.09,.09,.09,.09,
.1,.11,.1,.11,.1,.11,.1,.11,.1,.11,.1,
.11,.12,.11,.12,.11,.12,.11,.12,.11,.12,.11,
.12,.12,.12,.12,.12,.12,.12,.12,.12,.12,.12,.12,
.13,.13,.13,.13,.13,.13,.13,.13,.13,.13,.13,.13,
.13,.14,.13,.14,.13,.14,.13,.14,.13,.14,.13,
.13,.14,.13,.14,.13,.14,.13,.14,
.14,.13,.14,.13,.14,.13,.14,.13,
.13,.14,.13,.14,.13,.14,.13,.14,
.14,.13,.14,.13,.14,.13,.14,.13,
.13,.14,.13,.14,.13,.14,.13,.14,.13,
.13,.14,.13,.14,.13,.14,.13,
.14,.13,.14,.13,.14,.13,.14,
.13,.14,.13,.14,.14,
.14,.14,.14,.14];

// ---- Panel 4: stellar radius ----
const radiusTicks=[1,3,5,7];
const radiusTickLabels=["1","3","5","7"];
const radiusX=[6.27,5.96,5.85,5.6,5.36,5.26,5.13,5,4.96,4.97,
5,4.87,5.02,4.74,4.43,4.46,4.71,4.63,4.48,4.37,
4.32,4.4,4.11,3.9,3.82,3.74,3.88,4.19,4.03,3.82,
3.82,3.58,3.69,3.89,4.13,3.78,3.62,4.16,4.54,3.92,
3.37,3.32,3.27,2.72,2.55,3.13,3.18,3.48,3.27,3.11,
2.74,2.95,2.66,2.61,2.74,2.48,2.32,2.05,2.19,1.87,
2.14,2.24,2.24,2.49,2.01,1.77,1.9,1.72,1.93,1.64,
1.48,1.8,1.36,1.28,1.35,1.33,1.22,1.27,
3.7,3.55,3.4,3.2,3.05,2.9,2.8,2.6,2.45,2.05,1.95,1.85,1.7,1.58,1.52,1.42,1.38,1.3,4.05,4.25,4.55,4.85,3.95,3.78,
1.24,1.3,1.4,1.45,1.55,1.62,1.68,1.75,1.82,1.98,
2.1,2.18,2.3,2.38,2.52,2.58,2.68,2.78,2.82,2.88,
3.0,3.15,3.22,3.35,3.45,3.52,3.62,3.75,3.9,4.15,
4.3,4.5,4.6,4.8,4.92,4.9];
const radiusY=[6.21,5.95,5.84,5.54,5.89,5.21,5.16,5.32,5.27,5.16,
5,3.66,4.9,4.91,5.27,4.8,4.74,4.64,4.43,4.51,
4.4,4.27,4.38,4.53,4.51,4.35,4.24,4.17,4.09,4.01,
3.86,3.86,3.7,3.64,3.5,3.33,3.15,3.15,2.8,2.63,
2.48,3.86,3.79,3.86,3.66,3.57,3.41,3.49,3.23,3.13,
3.1,2.97,2.92,2.76,2.58,2.52,2.47,2.97,2.87,2.38,
2.33,2.26,2.1,1.91,2.11,2.16,2.08,1.98,1.92,1.76,
1.57,1.61,2.12,1.62,1.48,1.38,1.19,1.17,
3.72,3.58,3.42,3.25,3.08,2.88,2.82,2.62,2.46,2.08,1.98,1.86,1.72,1.6,1.5,1.44,1.34,1.28,4.03,4.3,4.58,4.82,3.98,3.8,
1.3,1.22,1.36,1.5,1.48,1.58,1.62,1.7,1.8,1.85,
2.05,2.15,2.25,2.4,2.55,2.68,2.66,2.74,2.9,2.95,
3.0,3.2,3.15,3.3,3.42,3.55,3.6,3.68,3.95,4.15,
4.25,4.45,4.55,4.78,4.95,5.05];
const radiusXLo=[.2,.15,.12,.12,1.95,.3,.25,2.67,.4,.4,
.3,.7,.3,2.85,2.41,2.84,.4,.5,3.0,2.65,
.5,.4,.5,1.9,1.5,1.97,1.9,.4,.5,2.4,
1.7,2.0,2.0,1.8,.5,.6,.5,.4,.8,.6,
.5,1.7,1.5,.6,.7,1.5,1.4,.5,.5,.6,
.6,.4,.5,.5,.4,.3,.3,.6,.6,.5,
.3,.3,.3,.3,.3,.3,.3,.3,.3,.2,
.15,.2,.12,.1,.1,.1,.1,.1,
.4,1.4,.5,1.2,.4,.4,.5,.3,.3,.5,.4,.3,.2,.2,.15,.12,.1,.1,.6,.4,.5,.3,1.5,.5,
.08,.1,.1,.12,.12,.15,.15,.18,.2,.25,
.25,.3,.3,.35,.35,.4,.4,.4,.4,.45,
.45,.5,.5,.5,.5,.5,.5,.5,.5,.4,
.4,.4,.4,.35,.35,.35];
const radiusXHi=[.2,.3,.2,.35,.98,.3,.25,.3,.35,.35,
.4,.65,.35,.45,.4,.5,.5,.4,.45,.4,
.5,.55,.55,.35,.4,.3,.35,.55,.5,.35,
.5,.4,.35,.3,.55,.5,.6,.5,.3,.5,
.4,.2,.4,.5,.3,.3,.4,.35,.4,.4,
.5,.5,.4,.4,.5,.4,.3,.2,.25,.2,
.25,.3,.3,.4,.25,.25,.25,.25,.3,.25,
.2,.2,.12,.1,.12,.1,.08,.08,
.4,.4,.4,.4,.4,.4,.4,.3,.3,.25,.25,.25,.2,.2,.15,.12,.12,.1,.5,.5,.35,.35,.45,.4,
.08,.1,.12,.15,.15,.18,.2,.2,.25,.25,
.3,.3,.35,.35,.4,.35,.4,.4,.45,.4,
.45,.45,.5,.5,.45,.45,.45,.45,.45,.4,
.4,.35,.35,.3,.3,.3];
const radiusYLo=[.2,.15,.12,.3,2.14,.25,.3,.3,.4,2.56,
2.24,1.4,.4,.5,.4,.5,2.24,.5,.4,.5,
1.8,.5,.6,.7,1.3,.7,.6,1.1,.8,1.3,
.6,.6,.5,1.84,1.5,.8,.5,.9,.72,.76,
.53,.7,.6,.4,.4,.9,.4,.5,.5,.5,
.4,.6,.4,.5,.7,.6,.6,.2,.2,.3,
.3,.3,.4,.2,.3,.3,.3,.3,.3,.2,
.15,.2,.1,.1,.1,.1,.08,.08,
.8,1.0,.7,.6,.6,.5,.6,.5,.5,.3,.3,.3,.25,.2,.15,.12,.1,.1,1.2,.8,.7,.6,1.5,1.0,
.08,.08,.1,.12,.12,.15,.15,.2,.2,.25,
.25,.3,.3,.35,.4,.4,.4,.45,.5,.5,
.55,.55,.55,.6,.6,.6,.55,.55,.5,.5,
.45,.45,.4,.4,.35,.35];
const radiusYHi=[.2,.15,.15,.3,.86,.2,.2,.4,.5,.4,
1.02,.6,.4,.6,.55,.4,.5,.4,.4,.5,
.4,.4,.45,.5,.55,.4,.4,.35,.4,.4,
.5,.35,.4,.4,.35,.3,.35,.3,.8,.4,
.4,.4,.5,.55,.4,.35,.4,.35,.3,.35,
.4,.35,.3,.3,.3,.3,.3,.15,.15,.15,
.2,.25,.25,.25,.2,.2,.2,.15,.15,.15,
.12,.12,.1,.1,.1,.1,.06,.06,
.35,.4,.4,.35,.35,.3,.3,.3,.25,.2,.15,.15,.15,.12,.12,.1,.08,.08,.4,.3,.3,.3,.3,.4,
.06,.06,.08,.1,.1,.12,.12,.15,.15,.15,
.2,.2,.25,.25,.3,.3,.3,.3,.35,.35,
.35,.35,.35,.4,.4,.4,.4,.4,.4,.35,
.35,.35,.3,.3,.3,.3];

const panelsRoot=document.getElementById('panels');
const svgNS='http://www.w3.org/2000/svg';
function mk(tag,attrs,parent){
  const e=document.createElementNS(svgNS,tag);
  for(const k in attrs)e.setAttribute(k,attrs[k]);
  parent.appendChild(e);
  return e;
}
function drawPanel(name,box,range,major,majorLabels,minorStep,xs,ys,xlo,xhi,ylo,yhi){
  const xScale=v=>box.l+(v-range[0])/(range[1]-range[0])*(box.r-box.l);
  const yScale=v=>box.b-(v-range[0])/(range[1]-range[0])*(box.b-box.t);
  const g=mk('g',{},panelsRoot);
  
  
  const clipId=name+'-clip';
  const defs=mk('defs',{},g);
  const cp=mk('clipPath',{id:clipId},defs);
  mk('rect',{x:box.l,y:box.t,width:box.r-box.l,height:box.b-box.t},cp);

  const errG=mk('g',{'clip-path':'url(#'+clipId+')',stroke:'#808080','stroke-width':1.8,fill:'none'},g);
  
  
  const cap=7.5;
  xs.forEach((x,i)=>{
    const y=ys[i];
    const px=xScale(x),py=yScale(y);
    const x0=xScale(x-(xlo[i]??0)),x1=xScale(x+(xhi[i]??0));
    const y0=yScale(y-(ylo[i]??0)),y1=yScale(y+(yhi[i]??0));
    const d='M'+x0.toFixed(1)+' '+py.toFixed(1)+'H'+x1.toFixed(1)
      +'M'+px.toFixed(1)+' '+y0.toFixed(1)+'V'+y1.toFixed(1)
      +'M'+x0.toFixed(1)+' '+(py-cap).toFixed(1)+'v'+(2*cap)
      +'M'+x1.toFixed(1)+' '+(py-cap).toFixed(1)+'v'+(2*cap)
      +'M'+(px-cap).toFixed(1)+' '+y0.toFixed(1)+'h'+(2*cap)
      +'M'+(px-cap).toFixed(1)+' '+y1.toFixed(1)+'h'+(2*cap);
    const p=mk('path',{d:d},errG);
    
    
  });

  const ptG=mk('g',{'clip-path':'url(#'+clipId+')'},g);
  
  
  xs.forEach((x,i)=>{
    const c=mk('circle',{cx:xScale(x).toFixed(1),cy:yScale(ys[i]).toFixed(1),r:7.4,fill:'#000',stroke:'#cfcfcf','stroke-width':0.9},ptG);
    
    
  });

  const line=mk('line',{x1:xScale(range[0]),y1:yScale(range[0]),x2:xScale(range[1]),y2:yScale(range[1]),stroke:'#ff0000','stroke-width':3},g);
  
  

  const frame=mk('rect',{x:box.l,y:box.t,width:box.r-box.l,height:box.b-box.t,fill:'none',stroke:'#000','stroke-width':4},g);
  
  

  const n=Math.round((range[1]-range[0])/minorStep);
  for(let k=0;k<=n;k++){
    const v=range[0]+k*minorStep;
    const a=mk('line',{x1:xScale(v),x2:xScale(v),y1:box.b,y2:box.b+11,stroke:'#000','stroke-width':3},g);
    
    
    const b=mk('line',{x1:box.l,x2:box.l-11,y1:yScale(v),y2:yScale(v),stroke:'#000','stroke-width':3},g);
    
    
  }
  major.forEach((v,i)=>{
    const a=mk('line',{x1:xScale(v),x2:xScale(v),y1:box.b,y2:box.b+20,stroke:'#000','stroke-width':4},g);
    
    
    const b=mk('line',{x1:box.l,x2:box.l-20,y1:yScale(v),y2:yScale(v),stroke:'#000','stroke-width':4},g);
    
    
    const t1=mk('text',{x:xScale(v),y:box.b+60,'text-anchor':'middle','font-size':31.5},g);
    t1.textContent=majorLabels[i];
    
    
    const t2=mk('text',{x:box.l-38,y:yScale(v)+11.5,'text-anchor':'end','font-size':31.5},g);
    t2.textContent=majorLabels[i];
    
    
  });
}
drawPanel('stellar-mass',{l:155,r:537,t:21,b:403},[1.21,7],massTicks,massTickLabels,.2,massX,massY,massXLo,massXHi,massYLo,massYHi);
drawPanel('core-mass',{l:776,r:1157,t:21,b:403},[.04,.25],coreTicks,coreTickLabels,.01,coreX,coreY,coreXLo,coreXHi,coreYLo,coreYHi);
drawPanel('hydrogen-fraction',{l:155,r:537,t:556,b:939},[0,1],hydroTicks,hydroTickLabels,.05,hydroX,hydroY,hydroXLo,hydroXHi,hydroYLo,hydroYHi);
drawPanel('stellar-radius',{l:776,r:1157,t:556,b:939},[1,7],radiusTicks,radiusTickLabels,.5,radiusX,radiusY,radiusXLo,radiusXHi,radiusYLo,radiusYHi);
</script>
</body>
</html>
